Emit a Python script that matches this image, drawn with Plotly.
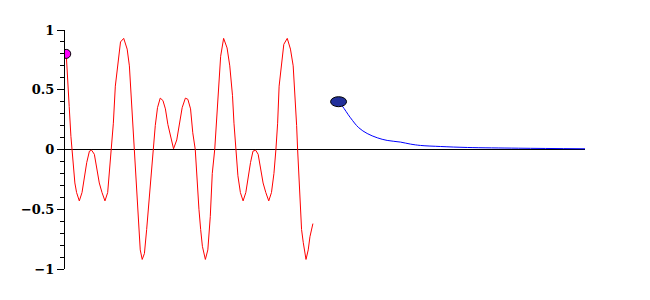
import plotly.graph_objects as go

# Red oscillating curve (t, value)
red_t = [0.00, 0.05, 0.12, 0.19, 0.23, 0.29, 0.35, 0.42, 0.53, 0.64, 0.73, 0.83, 0.94,
         1.03, 1.14, 1.23, 1.34, 1.45, 1.57, 1.68, 1.75, 1.82, 1.91, 1.99, 2.09, 2.20,
         2.33, 2.47, 2.56, 2.63, 2.70, 2.75, 2.81, 2.87, 2.94, 3.00, 3.08, 3.17, 3.26,
         3.35, 3.43, 3.51, 3.61, 3.70, 3.81, 3.92, 4.02, 4.12, 4.23, 4.35, 4.48, 4.59,
         4.70, 4.83, 4.93, 5.04, 5.13, 5.23, 5.30, 5.38, 5.45, 5.52, 5.64, 5.74, 5.84,
         5.92, 6.02, 6.09, 6.18, 6.26, 6.38, 6.52, 6.63, 6.74, 6.80, 6.88, 6.96, 7.06,
         7.17, 7.28, 7.37, 7.47, 7.57, 7.68, 7.78, 7.87, 7.98, 8.09, 8.21, 8.32, 8.42,
         8.50, 8.57, 8.63, 8.73, 8.82, 8.96, 9.09, 9.20, 9.28, 9.34, 9.38, 9.43, 9.48,
         9.54, 9.61, 9.72, 9.81, 9.88, 10.00]
red_y = [0.80, 0.56, 0.36, 0.11, 0.00, -0.17, -0.28, -0.36, -0.43, -0.36, -0.22, -0.11, -0.014,
         -0.006, -0.04, -0.14, -0.28, -0.36, -0.43, -0.36, -0.20, 0.00, 0.22, 0.53, 0.73, 0.90,
         0.93, 0.84, 0.70, 0.45, 0.20, 0.00, -0.22, -0.45, -0.67, -0.84, -0.92, -0.87, -0.67,
         -0.45, -0.22, 0.00, 0.20, 0.35, 0.43, 0.41, 0.34, 0.21, 0.10, 0.006, 0.08, 0.22,
         0.35, 0.43, 0.42, 0.34, 0.14, 0.00, -0.25, -0.50, -0.67, -0.81, -0.92, -0.84, -0.56,
         -0.20, 0.00, 0.25, 0.53, 0.78, 0.93, 0.85, 0.70, 0.45, 0.22, 0.00, -0.22, -0.36,
         -0.43, -0.36, -0.22, -0.11, -0.014, -0.006, -0.04, -0.14, -0.28, -0.36, -0.43, -0.36, -0.20,
         0.00, 0.22, 0.53, 0.73, 0.88, 0.93, 0.84, 0.70, 0.45, 0.20, 0.00, -0.22, -0.45,
         -0.67, -0.78, -0.92, -0.84, -0.73, -0.62]

# Blue decaying curve
blue_t = [11.04, 11.19, 11.52, 11.86, 12.20, 12.61, 13.01, 13.55, 13.96, 14.36, 15.18, 16.26, 18.34, 21.03]
blue_y = [0.40, 0.364, 0.266, 0.182, 0.134, 0.098, 0.076, 0.062, 0.045, 0.034, 0.025, 0.017, 0.011, 0.006]

# Y axis ticks
y_tickvals = [-1, -0.5, 0, 0.5, 1]
y_ticktext = ["\u22121", "\u22120.5", "0", "0.5", "1"]

fig = go.Figure()
fig.add_trace(go.Scatter(x=red_t, y=red_y, mode="lines",
                         line=dict(color="#ff0000", width=1), hoverinfo="skip"))
fig.add_trace(go.Scatter(x=blue_t, y=blue_y, mode="lines", line_shape="spline",
                         line=dict(color="#0000ff", width=1), hoverinfo="skip"))
fig.add_trace(go.Scatter(x=[red_t[0]], y=[red_y[0]], mode="markers",
                         marker=dict(color="#ff00ff", size=9,
                                     line=dict(color="black", width=1)),
                         hoverinfo="skip"))

fig.add_shape(type="circle", xref="x", yref="y",
              xsizemode="pixel", ysizemode="pixel",
              xanchor=blue_t[0], yanchor=blue_y[0],
              x0=-8, x1=8, y0=-5, y1=5,
              fillcolor="#22309a", line=dict(color="black", width=1), layer="above")

fig.update_layout(
    width=650, height=300,
    margin=dict(l=65, r=65, t=30, b=31),
    paper_bgcolor="white", plot_bgcolor="white",
    showlegend=False,
    xaxis=dict(range=[-0.05, 21.03], showgrid=False, zeroline=False,
               showline=False, showticklabels=False, ticks=""),
    yaxis=dict(range=[-1, 1], showgrid=False,
               zeroline=True, zerolinecolor="black", zerolinewidth=1,
               showline=True, linecolor="black", linewidth=1,
               tickmode="array", tickvals=y_tickvals, ticktext=y_ticktext,
               ticks="outside", ticklen=7, tickcolor="black", tickwidth=1,
               tickfont=dict(family="DejaVu Serif", size=13, color="black", weight="bold"),
               minor=dict(dtick=0.1, ticks="outside", ticklen=4,
                          tickcolor="black", tickwidth=1, showgrid=False)),
)

fig.write_html("out.html")
